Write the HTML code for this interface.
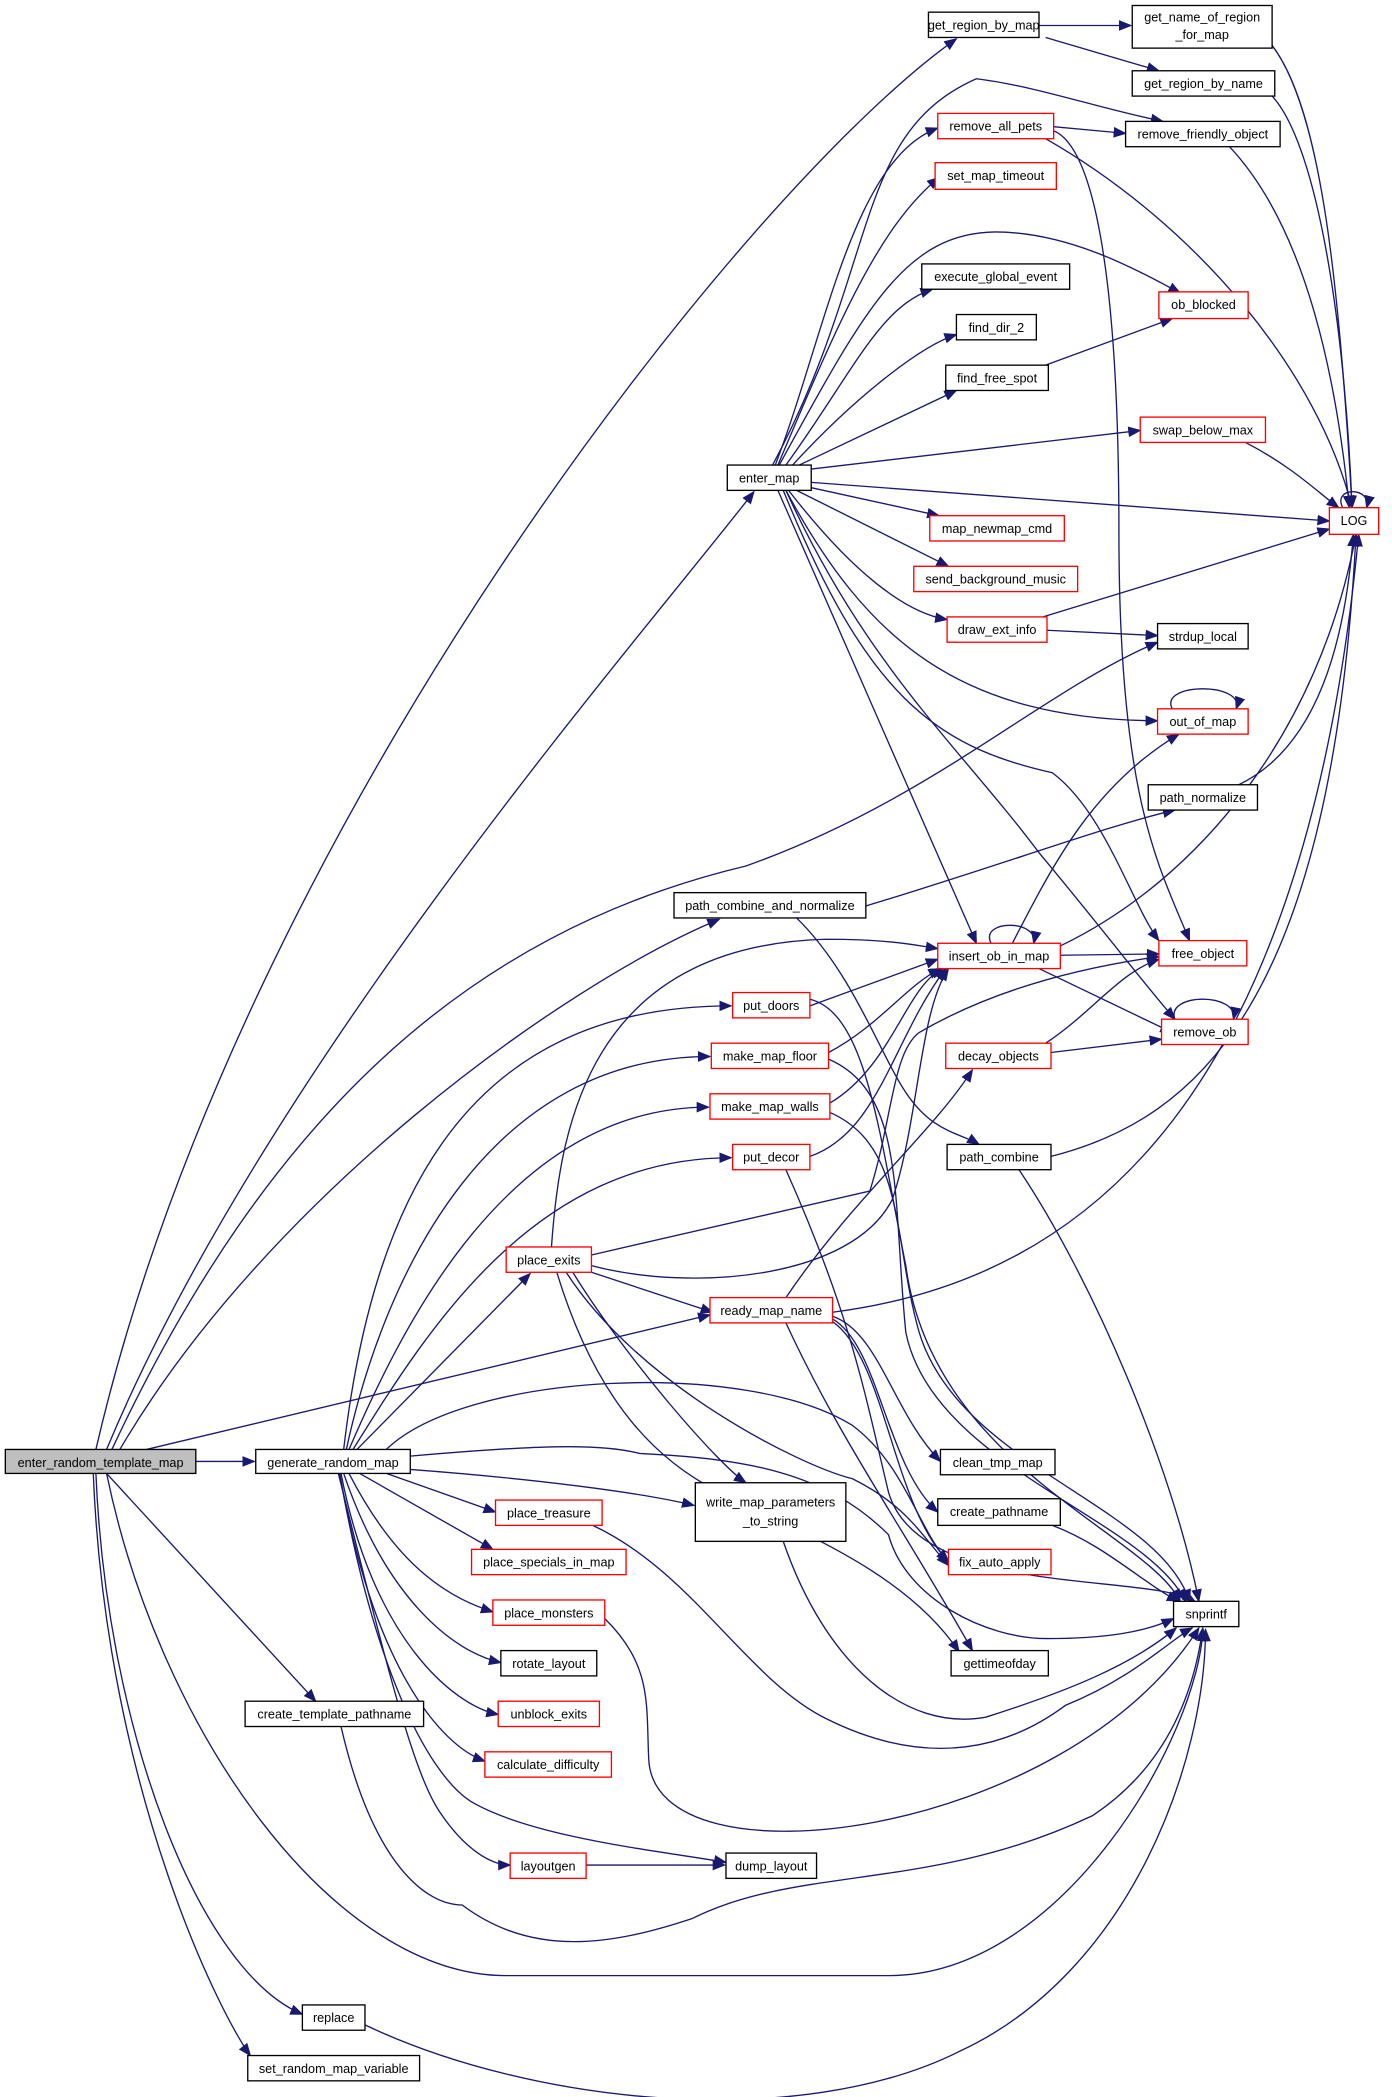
<!DOCTYPE html>
<html><head><meta charset="utf-8"><style>
html,body{margin:0;padding:0;background:#fff}
svg{display:block}
text{font-family:"Liberation Sans",Helvetica,sans-serif;font-size:9.5px;fill:#000}
.e{fill:none;stroke:#191970;stroke-width:1}
.b{fill:#fff;stroke:#000;stroke-width:1}
.r{fill:#fff;stroke:#ff0000;stroke-width:1}
.g{fill:#bfbfbf;stroke:#000;stroke-width:1}
</style></head><body>
<svg width="1392" height="2097" viewBox="0 0 1045 1574" xmlns="http://www.w3.org/2000/svg">
<defs><marker id="a" markerUnits="userSpaceOnUse" markerWidth="10" markerHeight="8" refX="9" refY="4" orient="auto"><path d="M0,0 L10,4 L0,8 z" fill="#191970"/></marker></defs>
<g class="e" marker-end="url(#a)">
<path d="M72,1088 C180,620 560,140 718,29"/>
<path d="M80,1088 C200,800 480,480 566,369"/>
<path d="M90,1088 C200,900 420,740 540,690"/>
<path d="M84,1088 C200,840 350,700 560,650 C700,600 780,520 869,482"/>
<path d="M147,1097 L191,1097"/>
<path d="M110,1088 L533,987"/>
<path d="M80,1106 L237,1277"/>
<path d="M80,1106 C120,1300 250,1483 380,1483 L667,1483 C800,1483 900,1300 903,1223"/>
<path d="M72,1106 C80,1300 150,1480 227,1512"/>
<path d="M70,1106 C80,1350 170,1520 188,1543"/>
<path d="M258,1088 C280,900 350,755 549,755"/>
<path d="M260,1088 C290,950 370,793 533,793"/>
<path d="M262,1088 C300,1000 380,831 532,831"/>
<path d="M265,1088 C320,1000 400,869 549,869"/>
<path d="M268,1088 L398,956"/>
<path d="M290,1088 C350,1030 560,1020 640,1070 C680,1100 690,1150 712,1172"/>
<path d="M308,1093 C400,1085 450,1083 480,1091 C560,1095 620,1105 667,1152 C680,1200 740,1230 786,1230 C830,1230 860,1225 881,1215"/>
<path d="M308,1103 C400,1110 480,1120 521,1130"/>
<path d="M290,1106 L372,1135"/>
<path d="M270,1106 L370,1163"/>
<path d="M262,1106 C300,1180 340,1200 370,1210"/>
<path d="M258,1106 C290,1200 340,1240 376,1248"/>
<path d="M256,1106 C280,1230 340,1280 374,1287"/>
<path d="M255,1106 C280,1250 330,1310 364,1322"/>
<path d="M255,1106 C280,1250 320,1330 353,1352 C400,1380 500,1390 545,1398"/>
<path d="M254,1106 C290,1250 310,1330 330,1360 C350,1390 370,1400 383,1400"/>
<path d="M582,349 C620,250 640,120 704,96"/>
<path d="M584,349 C630,240 660,170 705,133"/>
<path d="M580,349 C660,200 640,100 733,59 C780,65 820,80 873,91"/>
<path d="M585,349 C650,230 680,175 747,174 C800,174 850,200 886,220"/>
<path d="M590,349 C640,280 660,230 700,217"/>
<path d="M595,349 C640,300 690,260 718,251"/>
<path d="M600,349 L718,293"/>
<path d="M609,352 L856,323"/>
<path d="M609,362 L998,391"/>
<path d="M609,366 L705,387"/>
<path d="M598,368 L712,425"/>
<path d="M592,368 C640,430 680,460 711,465"/>
<path d="M590,368 C650,480 720,540 869,541"/>
<path d="M588,368 C650,520 700,560 790,580 C830,610 850,680 870,706"/>
<path d="M584,368 L733,708"/>
<path d="M590,368 C650,500 720,560 780,640 C830,700 860,740 882,765"/>
<path d="M780,19 L849,19"/>
<path d="M785,28 L870,53"/>
<path d="M791,95 L845,100"/>
<path d="M785,104 C900,170 990,280 1015,381"/>
<path d="M791,98 C820,110 840,200 840,400 C840,600 870,650 893,706"/>
<path d="M955,34 C990,80 1005,200 1015,381"/>
<path d="M955,72 C990,110 1010,250 1015,381"/>
<path d="M923,110 C970,160 1000,250 1013,381"/>
<path d="M935,332 C970,350 990,370 1005,381"/>
<path d="M785,274 L880,239"/>
<path d="M783,463 L998,397"/>
<path d="M786,473 L869,477"/>
<path d="M930,589 C990,560 1010,480 1016,401"/>
<path d="M650,680 C750,650 830,620 882,608"/>
<path d="M598,689 C640,730 660,790 680,820 C700,850 720,850 735,859"/>
<path d="M796,717 L870,716"/>
<path d="M780,727 L880,775"/>
<path d="M796,710 C900,660 990,550 1018,401"/>
<path d="M760,708 C790,650 820,590 885,551"/>
<path d="M608,755 L704,720"/>
<path d="M608,750 C650,760 660,850 680,950 C700,1100 860,1150 886,1202"/>
<path d="M622,790 C660,770 680,740 706,727"/>
<path d="M622,795 C680,820 670,900 680,1000 C700,1100 860,1140 890,1202"/>
<path d="M623,828 C670,800 680,740 708,727"/>
<path d="M623,835 C680,860 670,930 690,1000 C720,1100 870,1130 893,1202"/>
<path d="M608,868 C660,850 670,780 710,727"/>
<path d="M590,878 C640,990 650,1050 667,1120 C690,1200 860,1180 897,1202"/>
<path d="M785,783 C820,760 840,730 870,720"/>
<path d="M789,790 L872,780"/>
<path d="M789,868 C900,840 1000,750 1018,401"/>
<path d="M765,878 C820,960 880,1100 900,1202"/>
<path d="M414,936 C420,850 440,710 620,705 C670,705 690,710 704,712"/>
<path d="M444,942 L653,894 C670,840 670,790 690,775 C750,740 820,725 870,718"/>
<path d="M444,950 C520,970 640,960 670,900 C690,840 690,760 712,727"/>
<path d="M444,955 L535,985"/>
<path d="M430,955 C470,1020 540,1100 560,1113"/>
<path d="M425,955 C480,1040 600,1100 640,1110 C680,1130 690,1150 712,1175"/>
<path d="M418,955 C450,1060 500,1100 540,1120 C600,1150 680,1180 720,1240"/>
<path d="M590,974 C640,900 700,850 730,803"/>
<path d="M625,985 C820,960 980,820 1020,401"/>
<path d="M625,988 C660,1000 670,1060 706,1097"/>
<path d="M625,990 C660,1010 665,1100 704,1135"/>
<path d="M625,992 C665,1020 670,1130 712,1172"/>
<path d="M590,993 C630,1080 680,1150 730,1239"/>
<path d="M790,1145 C830,1160 860,1190 885,1202"/>
<path d="M588,1157 C620,1250 680,1300 740,1289 C800,1270 850,1250 883,1222"/>
<path d="M445,1145 C520,1180 560,1260 620,1290 C700,1330 760,1310 800,1280 C850,1260 880,1230 895,1222"/>
<path d="M454,1215 C490,1250 485,1280 487,1320 C490,1420 800,1380 900,1222"/>
<path d="M256,1296 C280,1400 320,1430 347,1430 C400,1470 460,1460 520,1440 C600,1400 700,1420 820,1363 C870,1330 895,1280 903,1222"/>
<path d="M274,1520 C400,1580 600,1600 720,1540 C850,1480 905,1320 905,1223"/>
<path d="M440,1400 L544,1400"/>
<path d="M1008,381 C1000,365 1030,365 1026,381"/>
<path d="M880,532 C870,512 935,512 928,532"/>
<path d="M744,708 C735,690 780,690 776,708"/>
<path d="M882,765 C875,745 930,745 926,765"/>
</g>
<g>
<rect class="g" x="4" y="1088" width="143" height="18"/><text x="75.5" y="1101" text-anchor="middle">enter_random_template_map</text>
<rect class="b" x="192" y="1088" width="116" height="18"/><text x="250" y="1101" text-anchor="middle">generate_random_map</text>
<rect class="b" x="697" y="9" width="83" height="19"/><text x="738.5" y="22" text-anchor="middle">get_region_by_map</text>
<rect class="b" x="850" y="4" width="105" height="32"/><text x="902.5" y="16" text-anchor="middle">get_name_of_region</text><text x="902.5" y="29" text-anchor="middle">_for_map</text>
<rect class="b" x="850" y="53" width="107" height="19"/><text x="903.5" y="66" text-anchor="middle">get_region_by_name</text>
<rect class="b" x="845" y="91" width="116" height="19"/><text x="903" y="104" text-anchor="middle">remove_friendly_object</text>
<rect class="r" x="704" y="85" width="87" height="19"/><text x="747.5" y="98" text-anchor="middle">remove_all_pets</text>
<rect class="r" x="702" y="122" width="91" height="20"/><text x="747.5" y="135" text-anchor="middle">set_map_timeout</text>
<rect class="b" x="692" y="198" width="111" height="19"/><text x="747.5" y="211" text-anchor="middle">execute_global_event</text>
<rect class="b" x="718" y="236" width="60" height="19"/><text x="748" y="249" text-anchor="middle">find_dir_2</text>
<rect class="b" x="710" y="274" width="77" height="19"/><text x="748.5" y="287" text-anchor="middle">find_free_spot</text>
<rect class="r" x="870" y="219" width="67" height="20"/><text x="903.5" y="232" text-anchor="middle">ob_blocked</text>
<rect class="r" x="856" y="313" width="94" height="19"/><text x="903" y="326" text-anchor="middle">swap_below_max</text>
<rect class="b" x="546" y="349" width="63" height="19"/><text x="577.5" y="362" text-anchor="middle">enter_map</text>
<rect class="r" x="998" y="381" width="37" height="20"/><text x="1016.5" y="394" text-anchor="middle">LOG</text>
<rect class="r" x="698" y="387" width="101" height="19"/><text x="748.5" y="400" text-anchor="middle">map_newmap_cmd</text>
<rect class="r" x="686" y="425" width="123" height="19"/><text x="747.5" y="438" text-anchor="middle">send_background_music</text>
<rect class="r" x="711" y="463" width="75" height="19"/><text x="748.5" y="476" text-anchor="middle">draw_ext_info</text>
<rect class="b" x="869" y="468" width="68" height="19"/><text x="903" y="481" text-anchor="middle">strdup_local</text>
<rect class="r" x="869" y="532" width="68" height="19"/><text x="903" y="545" text-anchor="middle">out_of_map</text>
<rect class="b" x="862" y="589" width="82" height="19"/><text x="903" y="602" text-anchor="middle">path_normalize</text>
<rect class="b" x="506" y="670" width="144" height="19"/><text x="578" y="683" text-anchor="middle">path_combine_and_normalize</text>
<rect class="r" x="704" y="708" width="92" height="19"/><text x="750" y="721" text-anchor="middle">insert_ob_in_map</text>
<rect class="r" x="870" y="706" width="66" height="19"/><text x="903" y="719" text-anchor="middle">free_object</text>
<rect class="r" x="550" y="745" width="58" height="19"/><text x="579" y="758" text-anchor="middle">put_doors</text>
<rect class="r" x="872" y="765" width="65" height="19"/><text x="904.5" y="778" text-anchor="middle">remove_ob</text>
<rect class="r" x="534" y="783" width="88" height="19"/><text x="578" y="796" text-anchor="middle">make_map_floor</text>
<rect class="r" x="710" y="783" width="79" height="19"/><text x="749.5" y="796" text-anchor="middle">decay_objects</text>
<rect class="r" x="533" y="821" width="90" height="19"/><text x="578" y="834" text-anchor="middle">make_map_walls</text>
<rect class="r" x="550" y="859" width="58" height="19"/><text x="579" y="872" text-anchor="middle">put_decor</text>
<rect class="b" x="711" y="859" width="78" height="19"/><text x="750" y="872" text-anchor="middle">path_combine</text>
<rect class="r" x="380" y="936" width="64" height="19"/><text x="412" y="949" text-anchor="middle">place_exits</text>
<rect class="r" x="533" y="974" width="92" height="19"/><text x="579" y="987" text-anchor="middle">ready_map_name</text>
<rect class="b" x="706" y="1088" width="86" height="19"/><text x="749" y="1101" text-anchor="middle">clean_tmp_map</text>
<rect class="b" x="522" y="1113" width="113" height="44"/><text x="578.5" y="1131" text-anchor="middle">write_map_parameters</text><text x="578.5" y="1145" text-anchor="middle">_to_string</text>
<rect class="r" x="372" y="1126" width="80" height="19"/><text x="412" y="1139" text-anchor="middle">place_treasure</text>
<rect class="b" x="704" y="1125" width="92" height="20"/><text x="750" y="1138" text-anchor="middle">create_pathname</text>
<rect class="r" x="354" y="1163" width="116" height="19"/><text x="412" y="1176" text-anchor="middle">place_specials_in_map</text>
<rect class="r" x="712" y="1163" width="77" height="19"/><text x="750.5" y="1176" text-anchor="middle">fix_auto_apply</text>
<rect class="b" x="881" y="1202" width="49" height="19"/><text x="905.5" y="1215" text-anchor="middle">snprintf</text>
<rect class="r" x="370" y="1201" width="84" height="19"/><text x="412" y="1214" text-anchor="middle">place_monsters</text>
<rect class="b" x="714" y="1239" width="73" height="19"/><text x="750.5" y="1252" text-anchor="middle">gettimeofday</text>
<rect class="b" x="376" y="1239" width="72" height="19"/><text x="412" y="1252" text-anchor="middle">rotate_layout</text>
<rect class="b" x="184" y="1277" width="134" height="19"/><text x="251" y="1290" text-anchor="middle">create_template_pathname</text>
<rect class="r" x="374" y="1277" width="76" height="19"/><text x="412" y="1290" text-anchor="middle">unblock_exits</text>
<rect class="r" x="364" y="1315" width="95" height="19"/><text x="411.5" y="1328" text-anchor="middle">calculate_difficulty</text>
<rect class="r" x="383" y="1391" width="57" height="19"/><text x="411.5" y="1404" text-anchor="middle">layoutgen</text>
<rect class="b" x="545" y="1391" width="68" height="19"/><text x="579" y="1404" text-anchor="middle">dump_layout</text>
<rect class="b" x="227" y="1505" width="47" height="19"/><text x="250.5" y="1518" text-anchor="middle">replace</text>
<rect class="b" x="186" y="1543" width="129" height="19"/><text x="250.5" y="1556" text-anchor="middle">set_random_map_variable</text>
</g>
</svg>
</body></html>
